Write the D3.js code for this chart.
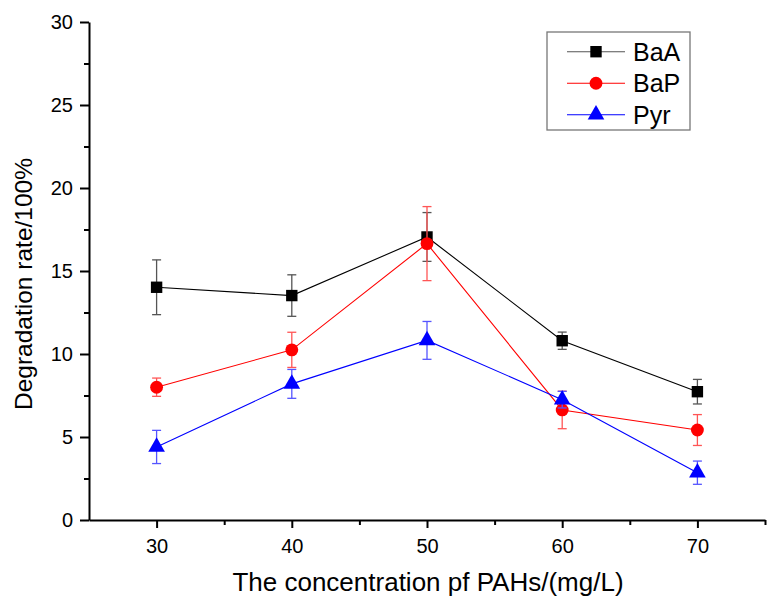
<!DOCTYPE html>
<html>
<head>
<meta charset="utf-8">
<script src="https://cdn.jsdelivr.net/npm/d3@7"></script>
<style>
  body { margin: 0; background: #fff; }
  svg { font-family: "Liberation Sans", Arial, sans-serif; }
</style>
</head>
<body>
<div id="chart"></div>
<script>
var concentrations = [30, 40, 50, 60, 70];
var seriesNames = ["BaA", "BaP", "Pyr"];
var baaValues = [14.02, 13.52, 17.05, 10.8, 7.73];
var baaErrors = [1.65, 1.25, 1.47, 0.52, 0.74];
var bapValues = [8.0, 10.25, 16.65, 6.63, 5.42];
var bapErrors = [0.55, 1.06, 2.23, 1.13, 0.93];
var pyrValues = [4.4, 8.2, 10.82, 7.25, 2.85];
var pyrErrors = [1.0, 0.87, 1.14, 0.5, 0.7];
var xTicks = [30, 40, 50, 60, 70];
var yTicks = [0, 5, 10, 15, 20, 25, 30];

(function () {
    var margin = {top: 22, right: 13, bottom: 86, left: 89},
        width = 778 - margin.left - margin.right,
        height = 606 - margin.top - margin.bottom;

    var svg = d3.select("#chart").append("svg")
        .attr("width", 778)
        .attr("height", 606)
        .append("g")
        .attr("transform", "translate(" + margin.left + "," + margin.top + ")");

    var x = d3.scaleLinear().domain([25, 75]).range([0, width]),
        y = d3.scaleLinear().domain([0, 30]).range([height, 0]);

    var series = [
        {name: seriesNames[0], values: baaValues, errors: baaErrors, color: "#000000", bar: "#555555", symbol: d3.symbolSquare, size: 130},
        {name: seriesNames[1], values: bapValues, errors: bapErrors, color: "#ff0000", bar: "#ff5555", symbol: d3.symbolCircle, size: 130},
        {name: seriesNames[2], values: pyrValues, errors: pyrErrors, color: "#0000ff", bar: "#5555ff", symbol: d3.symbolTriangle, size: 120}
    ];

    // minor ticks
    svg.append("g")
        .attr("transform", "translate(0," + height + ")")
        .call(d3.axisBottom(x).tickValues(d3.range(35, 76, 10)).tickSize(5).tickFormat(""))
        .call(g => g.select(".domain").remove())
        .selectAll("line").attr("stroke-width", 2);
    svg.append("g")
        .call(d3.axisLeft(y).tickValues(d3.range(2.5, 30, 5)).tickSize(5).tickFormat(""))
        .call(g => g.select(".domain").remove())
        .selectAll("line").attr("stroke-width", 2);

    var xAxis = svg.append("g")
        .attr("transform", "translate(0," + height + ")")
        .call(d3.axisBottom(x).tickValues(xTicks).tickSize(8).tickPadding(11).tickSizeOuter(0));
    xAxis.select(".domain").attr("stroke-width", 2);
    xAxis.selectAll("line").attr("stroke-width", 2);
    xAxis.selectAll("text").style("font-size", "20px").attr("fill", "#000");

    var yAxis = svg.append("g")
        .call(d3.axisLeft(y).tickValues(yTicks).tickSize(9).tickPadding(7).tickSizeOuter(0));
    yAxis.select(".domain").attr("stroke-width", 2);
    yAxis.selectAll("line").attr("stroke-width", 2);
    yAxis.selectAll("text").style("font-size", "20px").attr("fill", "#000");

    svg.append("text")
        .attr("transform", "rotate(-90)")
        .attr("x", -(284 - margin.top))
        .attr("y", 32 - margin.left)
        .attr("text-anchor", "middle")
        .style("font-size", "24.5px")
        .text("Degradation rate/100%");

    svg.append("text")
        .attr("x", 428 - margin.left)
        .attr("y", 591 - margin.top)
        .attr("text-anchor", "middle")
        .style("font-size", "26px")
        .text("The concentration pf PAHs/(mg/L)");

    var line = d3.line()
        .x(function (d, i) { return x(concentrations[i]); })
        .y(function (d) { return y(d); });

    series.forEach(function (s) {
        var g = svg.append("g").attr("class", "series");

        var eb = g.selectAll(".err")
            .data(s.values.map(function (v, i) { return {c: concentrations[i], v: v, e: s.errors[i]}; }))
            .enter().append("g")
            .attr("class", "err")
            .attr("stroke", s.bar)
            .attr("stroke-width", 1.3);
        eb.append("line")
            .attr("x1", d => x(d.c)).attr("x2", d => x(d.c))
            .attr("y1", d => y(d.v - d.e)).attr("y2", d => y(d.v + d.e));
        eb.append("line")
            .attr("x1", d => x(d.c) - 4.5).attr("x2", d => x(d.c) + 4.5)
            .attr("y1", d => y(d.v + d.e)).attr("y2", d => y(d.v + d.e));
        eb.append("line")
            .attr("x1", d => x(d.c) - 4.5).attr("x2", d => x(d.c) + 4.5)
            .attr("y1", d => y(d.v - d.e)).attr("y2", d => y(d.v - d.e));

        g.append("path")
            .attr("fill", "none")
            .attr("stroke", s.color)
            .attr("stroke-width", 1.1)
            .attr("d", line(s.values));

        g.selectAll(".pt")
            .data(s.values)
            .enter().append("path")
            .attr("class", "pt")
            .attr("d", d3.symbol().type(s.symbol).size(s.size))
            .attr("transform", (d, i) => "translate(" + x(concentrations[i]) + "," + y(d) + ")")
            .attr("fill", s.color);
    });

    // legend
    var lg = svg.append("g")
        .attr("transform", "translate(" + (547 - margin.left) + "," + (32 - margin.top) + ")");
    lg.append("rect")
        .attr("width", 143).attr("height", 98)
        .attr("fill", "#fff")
        .attr("stroke", "#777").attr("stroke-width", 1.3);
    var item = lg.selectAll(".item")
        .data(series)
        .enter().append("g")
        .attr("class", "item")
        .attr("transform", (d, i) => "translate(0," + (19.7 + i * 31.5) + ")");
    item.append("line")
        .attr("x1", 20).attr("x2", 78)
        .attr("stroke", d => d.color === "#000000" ? "#555" : d.color)
        .attr("stroke-width", 1.1);
    item.append("path")
        .attr("d", d => d3.symbol().type(d.symbol).size(d.size)())
        .attr("transform", "translate(49,0)")
        .attr("fill", d => d.color);
    item.append("text")
        .attr("x", 86)
        .attr("dy", "0.36em")
        .style("font-size", "25px")
        .text(d => d.name);
})();
</script>
</body>
</html>
